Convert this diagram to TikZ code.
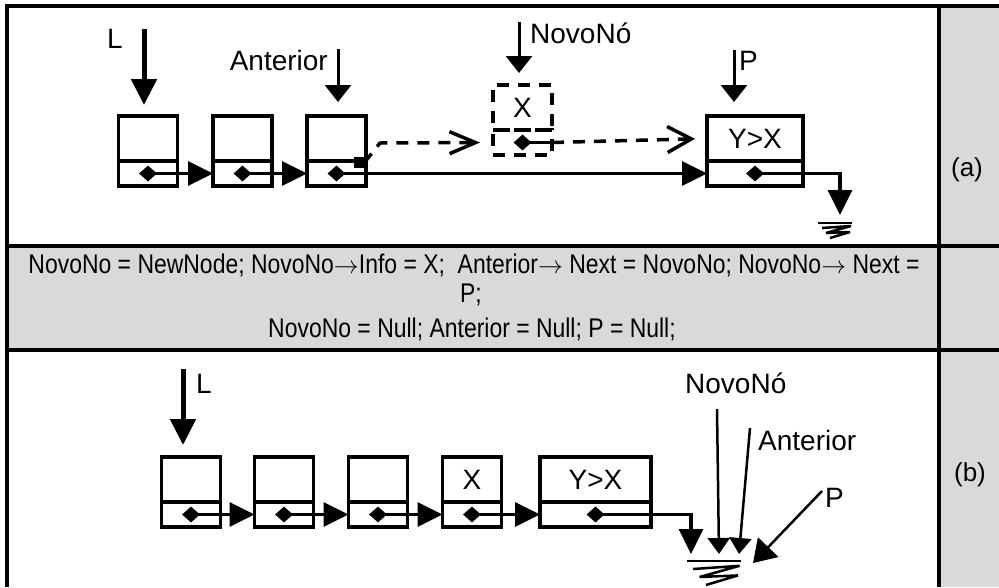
\documentclass[tikz,border=0pt]{standalone}
\usepackage{fontspec}
\setmainfont{Liberation Sans}
\newfontfamily\narrowfont[FakeStretch=0.85]{Liberation Sans}
\usetikzlibrary{arrows.meta,shapes.geometric,positioning,calc}

\definecolor{bandgray}{RGB}{217,217,217}

\begin{document}
\begin{tikzpicture}[x=1pt, y=-1pt,
  frame/.style={line width=4pt},
  info/.style={draw, line width=3.5pt, outer sep=0pt, inner sep=0pt, minimum width=#1, minimum height=45pt, font=\fontsize{28}{30}\selectfont},
  info/.default=59pt,
  link/.style={draw, line width=3.5pt, outer sep=0pt, inner sep=0pt, minimum width=#1, minimum height=25pt},
  link/.default=59pt,
  dot/.style={diamond, fill, inner sep=0pt, minimum width=18pt, minimum height=16pt},
  nxt/.style={line width=3.5pt, -{Triangle[length=25pt,width=24pt]}},
  big/.style={line width=5pt, -{Triangle[length=26pt,width=25pt]}},
  hand/.style={line width=3pt, -{Triangle[length=17pt,width=26pt]}},
  thin/.style={line width=2.5pt, -{Triangle[length=16pt,width=22pt]}},
  tmp/.style={line width=3.5pt, dash pattern=on 12pt off 9pt},
  lbl/.style={font=\fontsize{28}{30}\selectfont, inner sep=2pt},
  code/.style={font=\narrowfont\fontsize{27}{29}\selectfont, anchor=base, inner sep=0pt},
  tag/.style={font=\fontsize{26}{28}\selectfont},
  nullmark/.pic={
    \draw[line width=2.5pt] (-17,0) -- (17,0);
    \draw[line width=2.5pt, line join=bevel] (-13,5) -- (16,3) -- (-9,10) -- (15,9) -- (-5,15);
  }]
  \useasboundingbox (0,0) rectangle (999,587);

  % table frame and shaded parts
  \fill[bandgray] (939,6) rectangle (999,587);
  \fill[bandgray] (7,246) rectangle (999,350);
  \draw[frame] (7,587) -- (7,6) -- (999,6);
  \draw[frame] (939,6) -- (939,587);
  \draw[frame] (7,246) -- (999,246);
  \draw[frame] (7,350) -- (999,350);
  \node[tag] (ta) at (967,170) {(a)};
  \node[tag] (tb) at (970,475) {(b)};

  % (a) list before the insertion
  \foreach \n/\x in {1/148, 2/242.5, 3/336.5} {
    \node[info] (a\n) at (\x,138.5) {};
    \node[link, below=0pt of a\n] (a\n n) {};
    \node[dot] (a\n d) at (a\n n) {};
  }
  \node[info=96pt] (ay) at (755,138.5) {Y>X};
  \node[link=96pt, below=0pt of ay] (ayn) {};
  \node[dot] (ayd) at (ayn) {};
  \node[info, tmp] (ax) at (522.5,107.5) {X};
  \node[link, tmp, below=0pt of ax] (axn) {};
  \node[dot] (axd) at (axn) {};

  \draw[nxt] (a1d.center) -- (a2n.west);
  \draw[nxt] (a2d.center) -- (a3n.west);
  \draw[nxt, line width=3pt] (a3d.center) -- (ayn.west);
  \coordinate (nullA) at (835,223);
  \pic at (nullA) {nullmark};
  \draw[nxt] (ayd.center) -| ([xshift=5pt,yshift=8pt]nullA);

  % new links (dashed)
  \fill ($(a3n.north east)+(-12,-4)$) rectangle ++(12,11);
  \draw[tmp, -{Straight Barb[length=26pt,width=22pt]}, shorten >=13pt]
    ($(a3n.north east)+(-2,2)$) -- (380,143) -- (axn.west);
  \draw[line width=3pt] (axd.center) -- (axn.east);
  \draw[tmp, -{Straight Barb[length=24pt,width=26pt]}, shorten >=12pt] (axn.east) -- (ay.west);

  % (a) external pointers
  \node[lbl, anchor=base east] (la) at (125,48) {L};
  \coordinate (la0) at (144,29);
  \draw[big, shorten >=11pt] (la0) -- (la0 |- a1.north);
  \node[lbl, anchor=base east] (aa) at (330,70) {Anterior};
  \coordinate (aa0) at (338,49);
  \draw[hand, shorten >=14pt] (aa0) -- (aa0 |- a3.north);
  \node[lbl, anchor=base west] (na) at (528,43) {NovoNó};
  \coordinate (na0) at (519,22);
  \draw[hand, shorten >=12pt] (na0) -- (na0 |- ax.north);
  \node[lbl, anchor=base west] (pa) at (737,70) {P};
  \coordinate (pa0) at (734,50);
  \draw[hand, shorten >=14pt] (pa0) -- (pa0 |- ay.north);

  % code of the insertion
  \node[code] (c1) at (474,273) {NovoNo = NewNode; NovoNo$\rightarrow$Info = X;\ \ Anterior$\rightarrow$ Next = NovoNo; NovoNo$\rightarrow$ Next =};
  \node[code] (c2) at (471,302) {P;};
  \node[code] (c3) at (472,337) {NovoNo = Null; Anterior = Null; P = Null;};

  % (b) list after the insertion
  \foreach \n/\x/\t in {1/191/, 2/284/, 3/378/, 4/472/X} {
    \node[info] (b\n) at (\x,479.5) {\t};
    \node[link, below=0pt of b\n] (b\n n) {};
    \node[dot] (b\n d) at (b\n n) {};
  }
  \node[info=111pt] (b5) at (595.5,479.5) {Y>X};
  \node[link=111pt, below=0pt of b5] (b5n) {};
  \node[dot] (b5d) at (b5n) {};
  \foreach \p/\q in {1/2, 2/3, 3/4, 4/5}
    \draw[nxt] (b\p d.center) -- (b\q n.west);
  \coordinate (nullB) at (714,561);
  \pic[scale=1.6] at (nullB) {nullmark};
  \draw[nxt] (b5d.center) -| ([xshift=-23pt,yshift=7pt]nullB);

  % (b) external pointers
  \node[lbl, anchor=base west] (lb) at (194,393) {L};
  \coordinate (lb0) at (183,369);
  \draw[big, shorten >=12pt] (lb0) -- (lb0 |- b1.north);
  \node[lbl, anchor=base west] (nb) at (683,393) {NovoNó};
  \coordinate (nb0) at (717,409);
  \draw[thin] (nb0) -- ([xshift=5pt,yshift=7pt]nullB);
  \node[lbl, anchor=base west] (ab) at (756,450) {Anterior};
  \coordinate (ab0) at (750,428);
  \draw[thin] (ab0) -- ([xshift=25pt,yshift=7pt]nullB);
  \node[lbl, anchor=base west] (pb) at (823,507) {P};
  \coordinate (pb0) at (822,491);
  \draw[thin, -{Triangle[length=22pt,width=28pt]}] (pb0) -- ([xshift=39pt,yshift=-2pt]nullB);
\end{tikzpicture}
\end{document}
